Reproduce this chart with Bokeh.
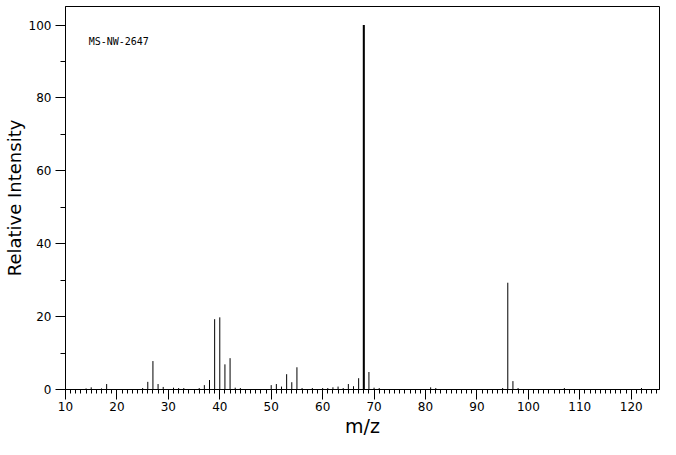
from bokeh.plotting import figure
from bokeh.models import (ColumnDataSource, Range1d, SingleIntervalTicker, FixedTicker,
                          LinearAxis, Label, CDSView, IndexFilter)
from bokeh.embed import file_html
from bokeh.resources import INLINE

# m/z values and relative intensities
mz = [14, 15, 17, 18, 25, 26, 27, 28, 29, 31, 32, 33, 36, 37, 38, 39, 40, 41, 42, 43,
      44, 50, 51, 52, 53, 54, 55, 56, 58, 60, 61, 62, 63, 64, 65, 66, 67, 68, 69, 70,
      71, 81, 82, 95, 96, 97, 98, 107, 122]
intensity = [0.3, 0.6, 0.3, 1.5, 0.4, 2.1, 7.8, 1.5, 0.7, 0.5, 0.4, 0.4, 0.4, 1.2, 2.6,
             19.3, 19.8, 6.9, 8.6, 0.5, 0.4, 1.2, 1.5, 0.8, 4.2, 2.0, 6.1, 0.4, 0.4, 0.4,
             0.4, 0.6, 0.8, 0.4, 1.5, 0.9, 3.1, 100, 4.8, 0.5, 0.4, 0.6, 0.4, 0.4, 29.3,
             2.3, 0.4, 0.4, 0.4]
medium_ticks = [15, 25, 35, 45, 55, 65, 75, 85, 95, 105, 115, 125]
sample_id = "MS-NW-2647"
x_label = "m/z"
y_label = "Relative Intensity"

src = ColumnDataSource(dict(x=mz, y0=[0] * len(mz), y=intensity))

FONT = "DejaVu Sans"

p = figure(width=660, height=439, output_backend="svg", toolbar_location=None,
           x_range=Range1d(10, 125.5), y_range=Range1d(0, 105.1),
           min_border_top=6, min_border_right=1, min_border_left=0, min_border_bottom=0,
           x_axis_type=None, y_axis_type=None)
p.grid.visible = False
p.outline_line_color = "black"
p.outline_line_width = 1
p.background_fill_color = "white"
p.border_fill_color = "white"

# x axis
xa = LinearAxis(ticker=SingleIntervalTicker(interval=10, num_minor_ticks=10))
xa.major_tick_out = 10
xa.major_tick_in = 0
xa.minor_tick_out = 4
xa.minor_tick_in = 0
xa.axis_line_color = "black"
xa.major_tick_line_color = "black"
xa.minor_tick_line_color = "black"
xa.major_label_text_font = FONT
xa.major_label_text_font_size = "12px"
xa.major_label_text_color = "black"
xa.major_label_standoff = 2
xa.axis_label = x_label
xa.axis_label_text_font = FONT
xa.axis_label_text_font_size = "19px"
xa.axis_label_text_font_style = "normal"
xa.axis_label_text_color = "black"
xa.axis_label_standoff = 1
p.add_layout(xa, "below")

# medium ticks at every 5
xa5 = LinearAxis(ticker=FixedTicker(ticks=medium_ticks), fixed_location=0)
xa5.major_tick_out = 7
xa5.major_tick_in = 0
xa5.minor_tick_out = 0
xa5.axis_line_color = None
xa5.major_label_text_color = None
xa5.major_tick_line_color = "black"
p.add_layout(xa5, "below")

# y axis
ya = LinearAxis(ticker=SingleIntervalTicker(interval=20, num_minor_ticks=2))
ya.major_tick_out = 10
ya.major_tick_in = 0
ya.minor_tick_out = 5
ya.minor_tick_in = 0
ya.axis_line_color = "black"
ya.major_label_text_font = FONT
ya.major_label_text_font_size = "12px"
ya.major_label_text_color = "black"
ya.major_label_standoff = 4
ya.axis_label = y_label
ya.axis_label_text_font = FONT
ya.axis_label_text_font_size = "18px"
ya.axis_label_text_font_style = "normal"
ya.axis_label_text_color = "black"
ya.axis_label_standoff = 1
p.add_layout(ya, "left")

p.segment(x0="x", y0="y0", x1="x", y1="y", source=src, line_color="black", line_width=1)
base_idx = intensity.index(max(intensity))
p.segment(x0="x", y0="y0", x1="x", y1="y", source=src, line_color="black", line_width=2,
          view=CDSView(filter=IndexFilter([base_idx])))

p.add_layout(Label(x=14.5, y=95.5, text=sample_id, text_font="DejaVu Sans Mono",
                   text_font_size="10px", text_baseline="middle", text_color="black"))

open("out.html", "w").write(file_html(p, INLINE))
